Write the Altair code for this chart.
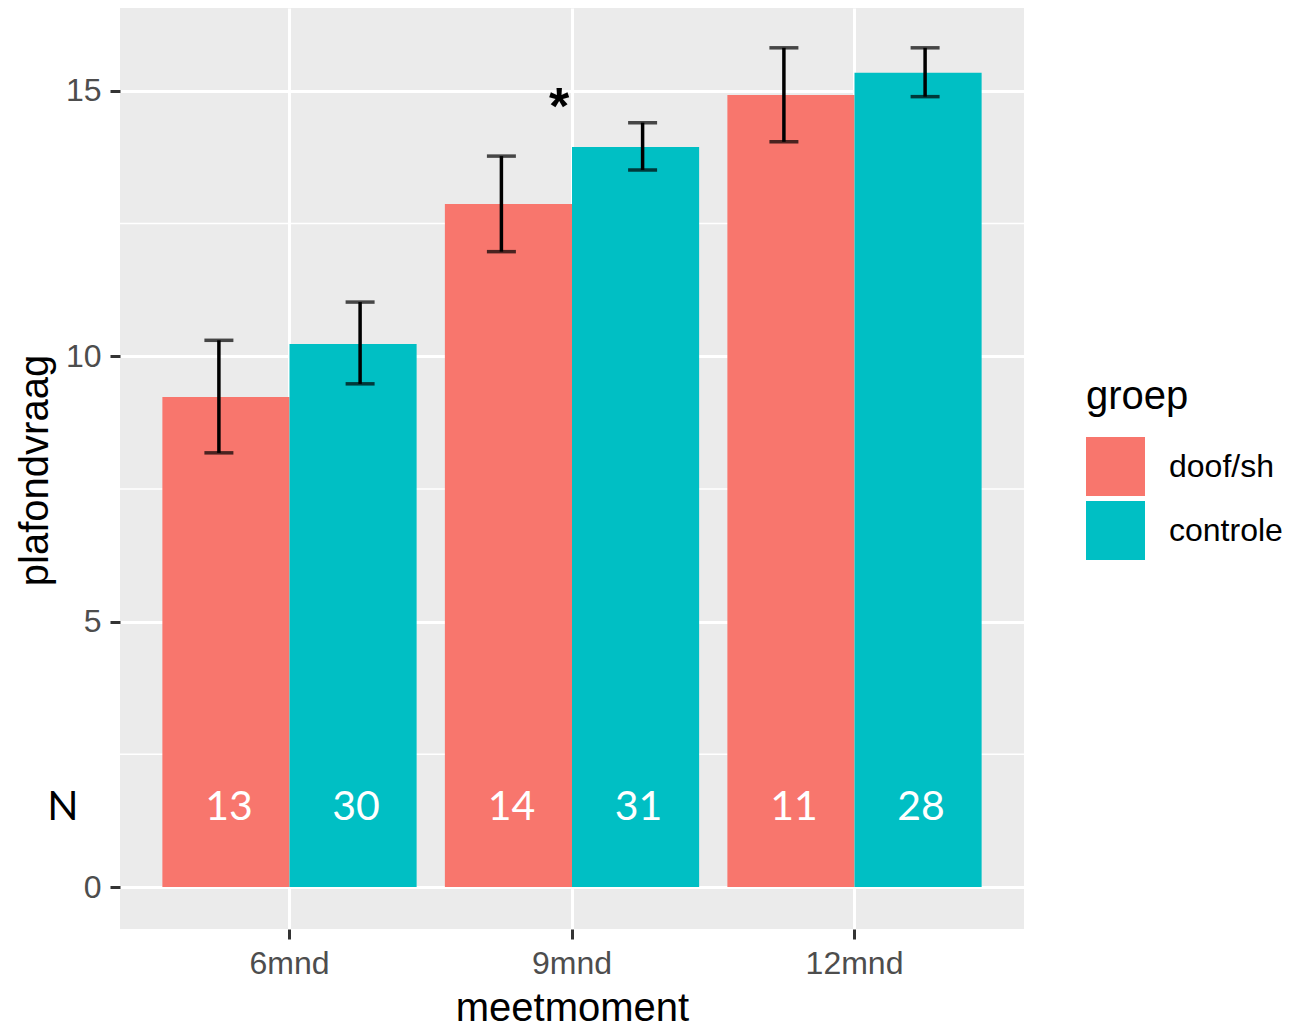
import altair as alt
import pandas as pd

# ---- data ----
meetmoment = ["6mnd", "9mnd", "12mnd"]
groepen = ["doof/sh", "controle"]

mean_doof = [9.23, 12.87, 14.92]
mean_controle = [10.23, 13.94, 15.34]
lower_doof = [8.18, 11.97, 14.04]
upper_doof = [10.30, 13.77, 15.81]
lower_controle = [9.48, 13.51, 14.89]
upper_controle = [11.02, 14.40, 15.81]
n_doof = [13, 14, 11]
n_controle = [30, 31, 28]

major_ticks = [0, 5, 10, 15]
minor_ticks = [2.5, 7.5, 12.5]
sig_moment = ["9mnd"]
sig_label = ["*"]

rows = []
for i, m in enumerate(meetmoment):
    rows.append({"meetmoment": m, "groep": "doof/sh", "mean": mean_doof[i],
                 "lower": lower_doof[i], "upper": upper_doof[i], "n": n_doof[i]})
    rows.append({"meetmoment": m, "groep": "controle", "mean": mean_controle[i],
                 "lower": lower_controle[i], "upper": upper_controle[i], "n": n_controle[i]})
df = pd.DataFrame(rows)

FONT = "Liberation Sans"
YDOM = [-0.79, 16.56]

xscale = alt.Scale(domain=meetmoment, paddingInner=0.1, paddingOuter=0.15)
xoff_scale = alt.Scale(domain=groepen, paddingInner=0, paddingOuter=0)
yscale = alt.Scale(domain=YDOM, nice=False, zero=False)

x_axis = alt.Axis(
    title="meetmoment", bandPosition=0.5, grid=True, gridColor="white", gridWidth=3,
    domain=False, ticks=True, tickSize=10, tickWidth=3, tickColor="#333333",
    labelFont=FONT, labelFontSize=32, labelColor="#4D4D4D", labelAngle=0,
    labelBaseline="alphabetic", labelPadding=34,
    titleFont=FONT, titleFontSize=40, titleFontWeight="normal", titleColor="black",
    titleX=452, titleY=91, titleBaseline="alphabetic", titleAlign="center",
)
y_axis = alt.Axis(
    title="plafondvraag", values=major_ticks, grid=True, gridColor="white", gridWidth=3,
    domain=False, ticks=True, tickSize=10, tickWidth=3, tickColor="#333333",
    labelFont=FONT, labelFontSize=32, labelColor="#4D4D4D", labelPadding=9,
    titleFont=FONT, titleFontSize=40, titleFontWeight="normal", titleColor="black",
    titleX=-73, titleY=462, titleAngle=270, titleBaseline="alphabetic", titleAlign="center",
)

X = alt.X("meetmoment:N", scale=xscale, axis=x_axis)
XO = alt.XOffset("groep:N", scale=xoff_scale)

minor = alt.Chart(pd.DataFrame({"v": minor_ticks})).mark_rule(
    color="white", strokeWidth=1.5
).encode(y=alt.Y("v:Q", scale=yscale, axis=y_axis))

bars = alt.Chart(df).mark_bar().encode(
    x=X, xOffset=XO,
    y=alt.Y("mean:Q", scale=yscale, axis=y_axis),
    y2=alt.datum(0),
    color=alt.Color(
        "groep:N",
        scale=alt.Scale(domain=groepen, range=["#F8766D", "#00BFC4"]),
        legend=alt.Legend(
            title="groep", orient="none", legendX=966, legendY=369,
            titleFont=FONT, titleFontSize=40, titleFontWeight="normal", titleColor="black",
            titlePadding=20, labelFont=FONT, labelFontSize=32, labelColor="black",
            symbolType="square", symbolSize=3481, symbolStrokeWidth=0, symbolOpacity=1,
            rowPadding=5, labelOffset=24, padding=0,
        ),
    ),
)


def errorbars(group, shift):
    # error bars dodged slightly wider than the bars (as in the reference)
    base = alt.Chart(df).transform_filter(alt.datum.groep == group)
    stem = base.mark_rule(color="black", strokeWidth=3.5, xOffset=shift).encode(
        x=X, y=alt.Y("lower:Q", scale=yscale), y2="upper:Q"
    )
    hi = base.mark_tick(color="black", size=29, thickness=3.5, xOffset=shift).encode(
        x=X, y=alt.Y("upper:Q", scale=yscale)
    )
    lo = base.mark_tick(color="black", size=29, thickness=3.5, xOffset=shift).encode(
        x=X, y=alt.Y("lower:Q", scale=yscale)
    )
    return [stem, hi, lo]


err_layers = errorbars("doof/sh", -70.6) + errorbars("controle", 70.6)

counts = alt.Chart(df).mark_text(
    color="white", font="Lato", fontSize=41, baseline="middle", align="center", dx=3
).encode(x=X, xOffset=XO, y=alt.datum(1.49), text="n:Q")

n_label = alt.Chart(pd.DataFrame({"label": ["N"]})).mark_text(
    color="black", font="Lato", fontSize=41, baseline="middle", align="center"
).encode(x=alt.value(-57), y=alt.datum(1.49), text="label:N")

sig = alt.Chart(pd.DataFrame({"meetmoment": sig_moment, "label": sig_label})).mark_text(
    color="black", font=FONT, fontSize=52, fontWeight="bold", baseline="alphabetic",
    align="center", dx=-13
).encode(x=X, y=alt.datum(14.38), text="label:N")

chart = alt.layer(minor, bars, *err_layers, counts, n_label, sig).properties(
    width=904, height=921,
    autosize=alt.AutoSizeParams(type="none"),
    padding={"left": 112, "top": 0, "right": 258, "bottom": 97},
).configure_view(fill="#EBEBEB", strokeWidth=0)

chart.save("out.html", embed_options={"renderer": "svg", "actions": False})
